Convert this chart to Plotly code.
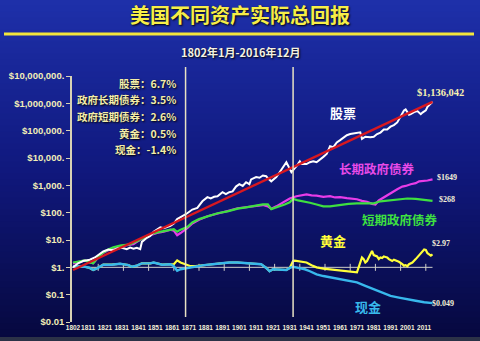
import plotly.graph_objects as go

# ---------------- data ----------------
stock_years = [1802,1805,1808,1812,1815,1818,1820,1823,1826,1828,1831,1834,1836,1838,1840,1842,1843,1846,1848,1850,
               1852,1854,1856,1858,1860,1862,1864,1866,1868,1870,1873,1876,1879,1882,1884,1886,1888,1891,1893,1895,
               1897,1899,1901,1903,1905,1907,1908,1911,1913,1915,1917,1918,1920,1923,1925,1927,1929,1931,1932,1935,
               1937,1938,1941,1943,1945,1947,1949,1951,1953,1955,1957,1959,1961,1963,1965,1967,1969,1973,1974,1976,
               1979,1981,1983,1985,1987,1989,1991,1993,1995,1997,1999,2000,2002,2003,2005,2007,2009,2010,2012,2013,
               2015,2016]
stock_vals = [1.0,1.4,1.7,1.9,2.3,3.0,3.8,4.5,4.2,4.8,5.2,4.6,5.3,4.8,5.2,4.6,8.5,12,14,20,
              25,29,27,30,33,40,58,68,80,95,130,150,260,370,330,380,400,560,480,560,
              600,900,1100,950,1300,1100,1650,2000,1900,2300,2150,1800,1400,2000,3000,4500,7000,4000,3000,5000,
              7600,6000,6000,7000,7600,7000,8500,11000,14000,27000,25000,37000,45000,57000,68000,75000,80000,87000,50000,60000,
              57000,60000,75000,85000,110000,110000,140000,160000,200000,350000,550000,600000,380000,400000,480000,520000,400000,460000,550000,750000,
              950000,1136042]

trend_years = [1802, 2016]
trend_vals = [0.8, 1136042]

lbond_years = [1802,1806,1809,1812,1814,1817,1820,1823,1826,1830,1834,1838,1840,1844,1848,1852,1856,1860,1862,1864,
               1866,1870,1873,1877,1882,1888,1894,1900,1905,1910,1915,1918,1920,1923,1927,1931,1935,1938,1941,1944,
               1947,1951,1955,1958,1961,1965,1968,1971,1974,1977,1980,1982,1984,1987,1990,1993,1995,1998,2000,2003,
               2006,2008,2011,2013,2016]
lbond_vals = [1.4,1.6,1.8,1.5,1.4,2.3,3.4,4.2,5.0,6,6.5,7,8.5,12,15,18,20,24,22,15,
              18,27,40,55,74,95,115,145,160,180,190,170,140,170,230,330,400,430,470,430,
              420,380,400,360,370,340,320,310,270,250,210,200,280,370,460,620,720,900,950,1100,
              1200,1400,1450,1500,1649]

sbond_years = [1802,1806,1809,1812,1814,1817,1820,1823,1826,1830,1834,1836,1840,1844,1848,1852,1855,1859,1862,1864,
               1866,1870,1873,1877,1882,1888,1894,1900,1905,1910,1915,1918,1920,1922,1925,1928,1931,1933,1936,1939,
               1943,1947,1951,1955,1961,1966,1971,1976,1981,1985,1991,1996,2001,2006,2009,2012,2016]
sbond_vals = [1.5,1.7,1.8,1.5,1.4,2.4,3.5,4.5,5.4,6.2,6.6,7,9,12,16,19,21,23,25,20,
              24,30,44,58,74,95,112,140,157,180,200,200,135,150,170,200,240,320,280,260,
              230,200,170,170,195,210,220,215,220,260,285,300,330,320,300,285,268]

gold_years = [1802,1806,1809,1812,1814,1816,1820,1825,1830,1835,1837,1840,1843,1848,1850,1855,1860,1862,1864,1866,
              1868,1870,1872,1875,1879,1885,1890,1895,1900,1905,1910,1914,1917,1919,1921,1925,1929,1931,1933,1934,
              1937,1941,1944,1947,1951,1955,1960,1965,1969,1971,1972,1973,1974,1975,1976,1977,1978,1979,1980,1981,
              1982,1983,1984,1985,1986,1987,1988,1989,1990,1991,1992,1993,1994,1996,1998,1999,2000,2001,2002,2004,
              2006,2008,2010,2011,2012,2013,2014,2015,2016]
gold_vals = [1.1,1.1,1.05,0.95,0.8,0.9,1.25,1.25,1.35,1.2,1.05,1.15,1.4,1.4,1.5,1.25,1.3,1.3,1.8,1.5,
             1.35,1.2,1.1,1.1,1.15,1.3,1.4,1.5,1.5,1.45,1.35,1.3,0.95,0.72,0.85,0.82,0.8,0.95,1.7,1.75,
             1.65,1.5,1.2,1.0,0.9,0.85,0.78,0.72,0.7,0.66,1.0,1.6,2.3,2.0,1.5,1.7,2.2,3.2,4.0,2.8,
             2.6,2.5,2.0,2.3,2.2,2.5,2.4,2.3,2.0,1.8,1.7,1.9,1.8,1.6,1.3,1.15,1.2,1.1,1.3,1.5,
             2.0,2.8,3.6,4.5,4.3,3.3,3.0,2.7,2.97]

cash_years = [1802,1806,1809,1812,1814,1816,1820,1825,1830,1835,1837,1840,1843,1848,1850,1855,1860,1862,1864,1866,
              1870,1875,1880,1885,1890,1895,1900,1905,1910,1914,1917,1919,1921,1925,1929,1931,1933,1936,1940,1943,
              1947,1951,1956,1961,1966,1971,1976,1981,1986,1991,1996,2001,2006,2011,2016]
cash_vals = [1.1,1.1,1.05,0.95,0.8,0.9,1.25,1.25,1.35,1.2,1.05,1.15,1.4,1.4,1.5,1.25,1.3,1.1,0.75,0.85,
             0.95,1.05,1.2,1.3,1.4,1.5,1.5,1.45,1.35,1.3,0.95,0.72,0.85,0.82,0.8,0.95,1.05,0.95,0.85,0.72,
             0.55,0.48,0.42,0.37,0.32,0.28,0.21,0.16,0.12,0.09,0.078,0.067,0.06,0.053,0.049]

axis_tick_years = [1817,1832,1847,1862,1877,1892,1907,1922,1937,1952,1967,1982,1997,2012]

x_tick_years = [1802] + list(range(1811, 2012, 10))
y_tick_vals = [0.01, 0.1, 1, 10, 100, 1000, 1e4, 1e5, 1e6, 1e7]
y_tick_text = ["$0.01", "$0.1", "$1.", "$10.", "$100.", "$1,000.", "$10,000.",
               "$100,000.", "$1,000,000.", "$10,000,000."]

stats_text = ["股票：6.7%", "政府长期债券：3.5%", "政府短期债券：2.6%", "黄金：0.5%", "现金：-1.4%"]

marker_years = [1869, 1933]

# ---------------- layout helpers ----------------
W, H = 480, 341
L, R, T, B = 72, 8, 76, 19
PW, PH = W - L - R, H - T - B

def px(xp):
    return (xp - L) / PW

def py(yp):
    return (H - B - yp) / PH

CJK = "Noto Sans CJK SC"
AX = "#cfcfc8"

fig = go.Figure()

# $1 axis line with ticks
fig.add_trace(go.Scatter(x=[1801.4, 2016], y=[1, 1], mode="lines",
                         line=dict(color=AX, width=1), hoverinfo="skip"))
fig.add_trace(go.Scatter(x=axis_tick_years, y=[1]*len(axis_tick_years), mode="markers",
                         marker=dict(symbol="line-ns-open", size=5, color=AX, line=dict(color=AX, width=1)),
                         hoverinfo="skip"))

fig.add_trace(go.Scatter(x=gold_years, y=gold_vals, mode="lines", line=dict(color="#ffff3a", width=2.2)))
fig.add_trace(go.Scatter(x=cash_years, y=cash_vals, mode="lines", line=dict(color="#38b8ec", width=2.4)))
fig.add_trace(go.Scatter(x=lbond_years, y=lbond_vals, mode="lines", line=dict(color="#e83ce8", width=2.2)))
fig.add_trace(go.Scatter(x=sbond_years, y=sbond_vals, mode="lines", line=dict(color="#3ee040", width=2.2)))
fig.add_trace(go.Scatter(x=stock_years, y=stock_vals, mode="lines", line=dict(color="#ffffff", width=2.0)))
fig.add_trace(go.Scatter(x=trend_years, y=trend_vals, mode="lines", line=dict(color="#d81820", width=2.4)))

shapes = []
# gradient background
top = (30, 48, 170)
mid = (16, 24, 125)
bot = (6, 8, 62)
step = 6
for i in range(0, 341, step):
    t = (i + step / 2) / 341
    if t < 0.5:
        a, b, u = top, mid, t / 0.5
    else:
        a, b, u = mid, bot, (t - 0.5) / 0.5
    c = tuple(int(round(a[k] + (b[k] - a[k]) * u)) for k in range(3))
    shapes.append(dict(type="rect", xref="paper", yref="paper", layer="below",
                       x0=px(-2), x1=px(W + 2), y0=py(min(i + step, H) + 0.5), y1=py(i - 0.5),
                       fillcolor="rgb(%d,%d,%d)" % c, line=dict(width=0)))
# bottom grey strip
shapes.append(dict(type="rect", xref="paper", yref="paper", layer="below",
                   x0=px(-2), x1=px(W + 2), y0=py(H + 1), y1=py(337),
                   fillcolor="#2b3247", line=dict(width=0)))
# yellow rule
shapes.append(dict(type="line", xref="paper", yref="paper", x0=px(4), x1=px(474), y0=py(34), y1=py(34),
                   line=dict(color="#f2e63c", width=3)))
# vertical marker lines
for yr in marker_years:
    shapes.append(dict(type="line", xref="x", yref="paper", x0=yr, x1=yr, y0=py(317), y1=py(67),
                       line=dict(color="#e8e2c4", width=1.5)))

ann = []
shadow = "1px 1px 2px #000000"
ann.append(dict(text="<b>美国不同资产实际总回报</b>", x=px(240), y=py(14), xref="paper", yref="paper",
                showarrow=False, xanchor="center", yanchor="middle",
                font=dict(family=CJK, size=20, color="#f6ee48", shadow=shadow)))
ann.append(dict(text="<b>1802年1月-2016年12月</b>", x=px(240), y=py(52), xref="paper", yref="paper",
                showarrow=False, xanchor="center", yanchor="middle",
                font=dict(family=CJK, size=11, color="#f4f2e0", shadow=shadow)))
for i, s in enumerate(stats_text):
    ann.append(dict(text="<b>" + s + "</b>", x=px(178), y=py(83 + i * 16.7), xref="paper", yref="paper",
                    showarrow=False, xanchor="right", yanchor="middle",
                    font=dict(family=CJK, size=10.5, color="#f4eea8", shadow=shadow)))

labels = [
    ("股票", 343, 112, "#ffffff", 13, CJK),
    ("长期政府债券", 377, 168, "#e84ae8", 12.5, CJK),
    ("短期政府债券", 400, 219, "#3ee040", 12.5, CJK),
    ("黄金", 333, 241, "#ffff3a", 13, CJK),
    ("现金", 368, 306, "#38b8ec", 13, CJK),
]
for t, x, y, c, s, f in labels:
    ann.append(dict(text="<b>" + t + "</b>", x=px(x), y=py(y), xref="paper", yref="paper",
                    showarrow=False, xanchor="center", yanchor="middle",
                    font=dict(family=f, size=s, color=c)))

vals = [
    ("$1,136,042", 440, 92, 10.5, "#f6f0b0"),
    ("$1649", 447, 177, 8, "#f4f0d8"),
    ("$268", 447, 199, 8, "#f4f0d8"),
    ("$2.97", 441, 243, 8, "#f4f0d8"),
    ("$0.049", 443, 303, 8, "#f4f0d8"),
]
for t, x, y, s, c in vals:
    ann.append(dict(text="<b>" + t + "</b>", x=px(x), y=py(y), xref="paper", yref="paper",
                    showarrow=False, xanchor="center", yanchor="middle",
                    font=dict(family="Liberation Serif", size=s, color=c)))

fig.update_layout(
    width=W, height=H,
    margin=dict(l=L, r=R, t=T, b=B, pad=0),
    paper_bgcolor="rgb(16,24,125)",
    plot_bgcolor="rgba(0,0,0,0)",
    showlegend=False,
    shapes=shapes,
    annotations=ann,
    xaxis=dict(range=[1801.4, 1801.4 + PW / 1.68], tickmode="array", tickvals=x_tick_years,
               ticktext=["<b>%d</b>" % y for y in x_tick_years], tickangle=0,
               tickfont=dict(family="Liberation Sans", size=6.5, color="#f2f0d8"),
               showgrid=False, zeroline=False, showline=False, ticks=""),
    yaxis=dict(type="log", range=[-2, 7], tickmode="array", tickvals=y_tick_vals,
               ticktext=["<b>%s</b>" % t for t in y_tick_text],
               tickfont=dict(family="Liberation Sans", size=9.5, color="#f2eeb8"),
               showgrid=False, zeroline=False, showline=True, linecolor="#d8d2b4", linewidth=1.5,
               ticks="outside", ticklen=4, tickcolor="#d8d2b4", tickwidth=1.2),
)

fig.write_html("out.html")
